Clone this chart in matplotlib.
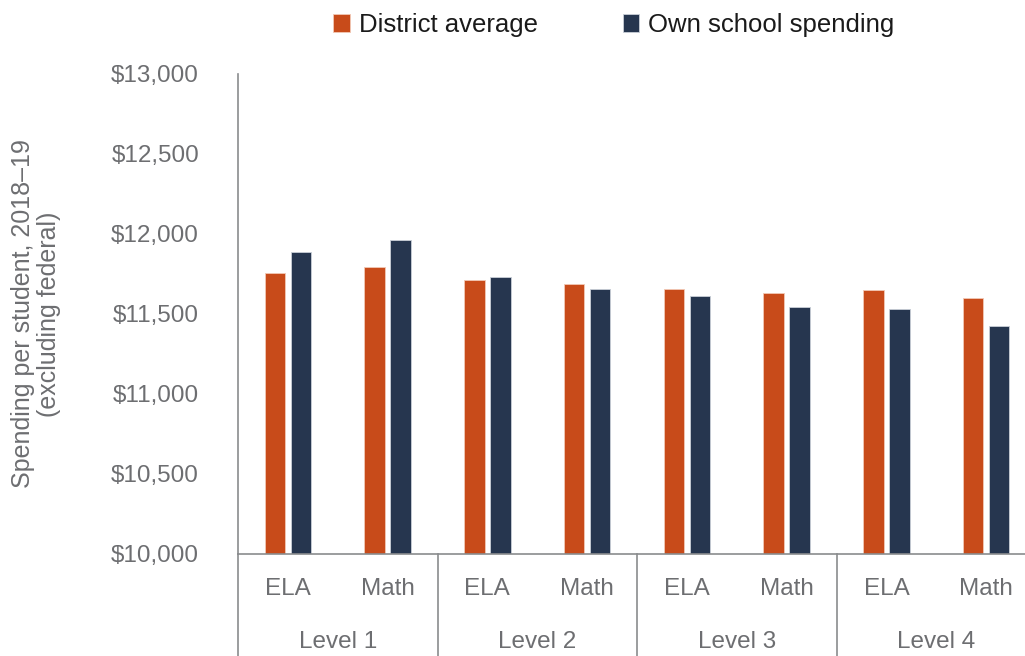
import numpy as np
import matplotlib
matplotlib.use("Agg")
import matplotlib.pyplot as plt
from matplotlib.patches import Patch
import matplotlib.transforms as mtransforms

levels = ["Level 1", "Level 2", "Level 3", "Level 4"]
subjects = ["ELA", "Math"]
district_avg = [11757, 11792, 11711, 11688, 11659, 11629, 11648, 11600]
own_school = [11887, 11960, 11730, 11659, 11615, 11546, 11529, 11422]
y_ticks = [10000, 10500, 11000, 11500, 12000, 12500, 13000]

orange = "#C84B1A"
navy = "#26364F"
gray_txt = "#6D6E71"
gray_line = "#8A8C8E"

plt.rcParams['font.family'] = ['Liberation Sans', 'DejaVu Sans']

fig = plt.figure(figsize=(10.25, 6.56), dpi=100)
W, H = 1025, 656
left, right, top, bottom = 238, 1036, 74, 554
ax = fig.add_axes([left / W, (H - bottom) / H, (right - left) / W, (bottom - top) / H])

x = np.arange(len(district_avg))
bw = 0.207
off = 0.13
ax.bar(x - off, district_avg, bw, color=orange, edgecolor="#F2C9B5", linewidth=0.6)
ax.bar(x + off, own_school, bw, color=navy, edgecolor="#C9CFD8", linewidth=0.6)

ax.set_xlim(-0.5, len(x) - 0.5)
ax.set_ylim(10000, 13000)
ax.set_yticks(y_ticks)
ax.set_yticklabels([f"${v:,}" for v in y_ticks])
ax.tick_params(axis='y', length=0, pad=28, labelsize=17.5, labelcolor=gray_txt)
ax.set_xticks([])

for s in ["top", "right"]:
    ax.spines[s].set_visible(False)
for s in ["left", "bottom"]:
    ax.spines[s].set_color(gray_line)
    ax.spines[s].set_linewidth(1.2)

ah = bottom - top
trans = mtransforms.blended_transform_factory(ax.transData, ax.transAxes)
cat_y = -(589 - bottom) / ah
lvl_y = -(642 - bottom) / ah
bot_y = -(H - bottom) / ah
for i in range(len(x)):
    ax.text(x[i], cat_y, subjects[i % 2], transform=trans, ha='center', va='center',
            fontsize=17.5, color=gray_txt)
for j, lv in enumerate(levels):
    ax.text(2 * j + 0.5, lvl_y, lv, transform=trans, ha='center', va='center',
            fontsize=17.5, color=gray_txt)
    xs = 2 * j - 0.5
    ax.plot([xs, xs], [0, bot_y], transform=trans, color=gray_line, lw=1.2, clip_on=False)

fig.text(36 / W, 1 - 314 / H, "Spending per student, 2018\u201319\n(excluding federal)",
         rotation=90, ha='center', va='center', multialignment='center',
         fontsize=18, color=gray_txt, linespacing=1.15)

handles = [Patch(facecolor=orange, edgecolor="#F2C9B5", lw=0.6),
           Patch(facecolor=navy, edgecolor="#C9CFD8", lw=0.6)]
fig.legend(handles, ["District average", "Own school spending"], loc='center',
           bbox_to_anchor=(614 / W, 1 - 25 / H), ncol=2, frameon=False,
           fontsize=18.5, handlelength=0.65, handleheight=0.65, handletextpad=0.35,
           columnspacing=3.3, labelcolor="#1A1A1A")

fig.savefig("out.png", dpi=100)
